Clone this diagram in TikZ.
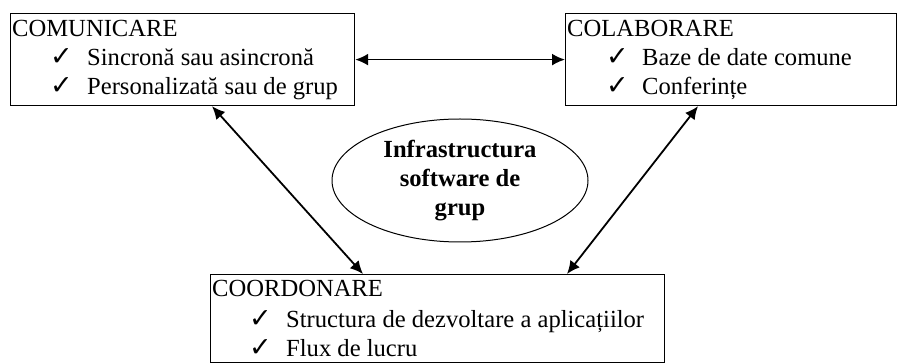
\documentclass[tikz,border=0pt]{standalone}
\usepackage{fontspec}
\setmainfont{Liberation Serif}
\newfontfamily\symfont{DejaVu Sans}
\usetikzlibrary{shapes.geometric,arrows.meta,calc}
\begin{document}
\begin{tikzpicture}[x=1pt,y=-1pt,
  box/.style={draw,line width=1.2pt,rectangle,anchor=north west,inner sep=0pt},
  lbl/.style={anchor=base west,inner sep=0pt,font=\fontsize{24.6}{29}\selectfont},
  chk/.style={anchor=base west,inner sep=0pt,font=\symfont\bfseries\fontsize{27}{27}\selectfont},
  conn/.style={line width=1.8pt,{Latex[length=13pt,width=12pt]}-{Latex[length=13pt,width=12pt]}}]
\useasboundingbox (0,0) rectangle (897,363);
\node[box,minimum width=344pt,minimum height=92pt] (com) at (10,13) {};
\node[box,minimum width=331pt,minimum height=92pt] (col) at (565,13) {};
\node[box,minimum width=454pt,minimum height=88pt] (coo) at (210,274) {};
\node[draw,ellipse,line width=1pt,minimum width=256pt,minimum height=123pt,align=center,
      font=\bfseries\fontsize{24.6}{29}\selectfont,inner sep=0pt] (inf) at (460,180.5)
      {Infrastructura\\software de\\grup};
\draw[conn] (com.east) -- (col.west);
\draw[conn] ($(com.south west)+(202,0)$) -- ($(coo.north west)+(153,0)$);
\draw[conn] ($(col.south west)+(133,0)$) -- ($(coo.north west)+(357,0)$);
% COMUNICARE
\node[lbl] (comt) at (12,37) {COMUNICARE};
\node[chk] (comc1) at (50,66) {✓};
\node[lbl] (com1) at (87,66) {Sincronă sau asincronă};
\node[chk] (comc2) at (50,95) {✓};
\node[lbl] (com2) at (87,95) {Personalizată sau de grup};
% COLABORARE
\node[lbl] (colt) at (567,37) {COLABORARE};
\node[chk] (colc1) at (606,66) {✓};
\node[lbl] (col1) at (642,66) {Baze de date comune};
\node[chk] (colc2) at (606,95) {✓};
\node[lbl] (col2) at (642,95) {Conferințe};
% COORDONARE
\node[lbl] (coot) at (212,297) {COORDONARE};
\node[chk] (cooc1) at (249,327) {✓};
\node[lbl] (coo1) at (286,327) {Structura de dezvoltare a aplicațiilor};
\node[chk] (cooc2) at (249,356) {✓};
\node[lbl] (coo2) at (286,356) {Flux de lucru};
\end{tikzpicture}
\end{document}
